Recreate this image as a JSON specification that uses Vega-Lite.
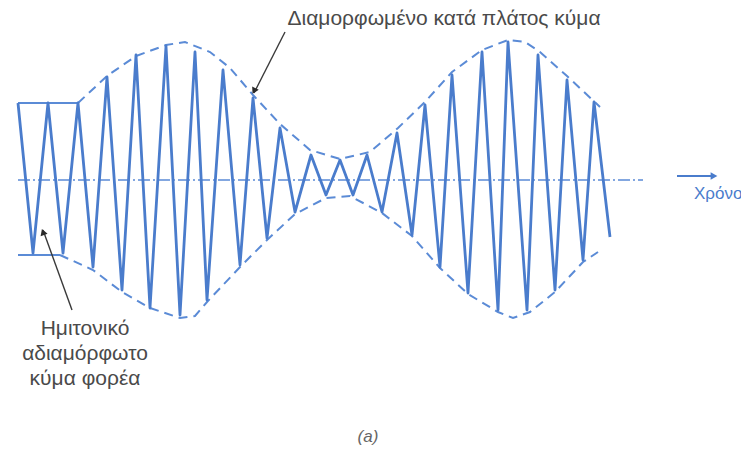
{
  "$schema": "https://vega.github.io/schema/vega-lite/v6.json",
  "width": 741,
  "height": 461,
  "autosize": "none",
  "padding": 0,
  "background": "white",
  "config": {"view": {"stroke": null}},
  "datasets": {
    "wave": [
      {"i":0,"t":18,"a":77},{"i":1,"t":33,"a":-73},{"i":2,"t":48,"a":77},{"i":3,"t":63,"a":-73},{"i":4,"t":78,"a":77},
      {"i":5,"t":93,"a":-87},{"i":6,"t":107,"a":103},{"i":7,"t":122,"a":-110},{"i":8,"t":136,"a":125},{"i":9,"t":150,"a":-128},
      {"i":10,"t":166,"a":134},{"i":11,"t":180,"a":-135},{"i":12,"t":195,"a":128},{"i":13,"t":207,"a":-120},{"i":14,"t":223,"a":110},
      {"i":15,"t":240,"a":-85},{"i":16,"t":253,"a":82},{"i":17,"t":267,"a":-58},{"i":18,"t":280,"a":52},{"i":19,"t":295,"a":-32},
      {"i":20,"t":311,"a":25},{"i":21,"t":326,"a":-15},{"i":22,"t":340,"a":20},{"i":23,"t":353,"a":-15},{"i":24,"t":367,"a":25},
      {"i":25,"t":382,"a":-32},{"i":26,"t":397,"a":47},{"i":27,"t":412,"a":-55},{"i":28,"t":425,"a":75},{"i":29,"t":440,"a":-87},
      {"i":30,"t":452,"a":105},{"i":31,"t":468,"a":-113},{"i":32,"t":482,"a":128},{"i":33,"t":498,"a":-130},{"i":34,"t":508,"a":138},
      {"i":35,"t":527,"a":-130},{"i":36,"t":538,"a":125},{"i":37,"t":555,"a":-110},{"i":38,"t":567,"a":100},{"i":39,"t":583,"a":-80},
      {"i":40,"t":594,"a":78},{"i":41,"t":610,"a":-57}
    ],
    "envelope": [
      {"part":"top","i":0,"t":78,"a":77},{"part":"top","i":1,"t":107,"a":104},{"part":"top","i":2,"t":136,"a":124},{"part":"top","i":3,"t":166,"a":135},
      {"part":"top","i":4,"t":185,"a":138},{"part":"top","i":5,"t":210,"a":128},{"part":"top","i":6,"t":230,"a":112},{"part":"top","i":7,"t":253,"a":85},
      {"part":"top","i":8,"t":280,"a":56},{"part":"top","i":9,"t":310,"a":30},{"part":"top","i":10,"t":340,"a":21},{"part":"top","i":11,"t":370,"a":28},
      {"part":"top","i":12,"t":398,"a":52},{"part":"top","i":13,"t":425,"a":78},{"part":"top","i":14,"t":452,"a":108},{"part":"top","i":15,"t":482,"a":130},
      {"part":"top","i":16,"t":508,"a":140},{"part":"top","i":17,"t":525,"a":138},{"part":"top","i":18,"t":540,"a":128},{"part":"top","i":19,"t":567,"a":104},
      {"part":"top","i":20,"t":600,"a":73},
      {"part":"bottom","i":0,"t":60,"a":-75},{"part":"bottom","i":1,"t":93,"a":-90},{"part":"bottom","i":2,"t":122,"a":-112},{"part":"bottom","i":3,"t":150,"a":-128},
      {"part":"bottom","i":4,"t":180,"a":-138},{"part":"bottom","i":5,"t":195,"a":-136},{"part":"bottom","i":6,"t":207,"a":-122},{"part":"bottom","i":7,"t":240,"a":-87},
      {"part":"bottom","i":8,"t":267,"a":-60},{"part":"bottom","i":9,"t":295,"a":-34},{"part":"bottom","i":10,"t":326,"a":-18},{"part":"bottom","i":11,"t":350,"a":-16},
      {"part":"bottom","i":12,"t":382,"a":-33},{"part":"bottom","i":13,"t":412,"a":-56},{"part":"bottom","i":14,"t":440,"a":-88},{"part":"bottom","i":15,"t":468,"a":-114},
      {"part":"bottom","i":16,"t":498,"a":-132},{"part":"bottom","i":17,"t":513,"a":-138},{"part":"bottom","i":18,"t":530,"a":-132},{"part":"bottom","i":19,"t":555,"a":-112},
      {"part":"bottom","i":20,"t":583,"a":-82},{"part":"bottom","i":21,"t":598,"a":-72}
    ],
    "flat": [
      {"part":"top","t":18,"a":77},{"part":"top","t":78,"a":77},
      {"part":"bottom","t":18,"a":-75},{"part":"bottom","t":60,"a":-75}
    ],
    "baseline": [{"t":18,"a":0},{"t":643,"a":0}],
    "arrows": [
      {"name":"modulated","t":285,"a":148,"t2":254,"a2":87},
      {"name":"carrier","t":72,"a":-130,"t2":43,"a2":-50}
    ],
    "heads": [
      {"name":"modulated","t":254,"a":89},
      {"name":"carrier","t":43,"a":-52}
    ],
    "timeaxis": [{"t":677,"a":4,"t2":712,"a2":4}],
    "timehead": [{"t":714,"a":4}],
    "labels": [
      {"kind":"top","t":444,"a":161,"text":"Διαμορφωμένο κατά πλάτος κύμα"},
      {"kind":"left","t":85,"a":-149,"text":"Ημιτονικό"},
      {"kind":"left","t":85,"a":-174,"text":"αδιαμόρφωτο"},
      {"kind":"left","t":85,"a":-199,"text":"κύμα φορέα"}
    ],
    "timelabel": [{"t":694,"a":-14,"text":"Χρόνος"}],
    "caption": [{"t":368,"a":-257,"text":"(a)"}]
  },
  "encoding": {
    "x": {"field":"t","type":"quantitative","scale":{"domain":[0,741],"nice":false,"zero":false},"axis":null},
    "y": {"field":"a","type":"quantitative","scale":{"domain":[-281,180],"nice":false,"zero":false},"axis":null}
  },
  "layer": [
    {
      "data": {"name":"baseline"},
      "mark": {"type":"line","color":"#5b8bd6","strokeWidth":1.6,"strokeDash":[12,3,2,3]},
      "encoding": {}
    },
    {
      "data": {"name":"envelope"},
      "mark": {"type":"line","color":"#5b8bd6","strokeWidth":2,"strokeDash":[9,6]},
      "encoding": {"detail":{"field":"part"},"order":{"field":"i","type":"quantitative"}}
    },
    {
      "data": {"name":"flat"},
      "mark": {"type":"line","color":"#5b8bd6","strokeWidth":2},
      "encoding": {"detail":{"field":"part"}}
    },
    {
      "data": {"name":"wave"},
      "mark": {"type":"line","color":"#4a7ccc","strokeWidth":2.8,"strokeJoin":"round"},
      "encoding": {"order":{"field":"i","type":"quantitative"}}
    },
    {
      "data": {"name":"arrows"},
      "mark": {"type":"rule","color":"#3a3a3a","strokeWidth":1.4},
      "encoding": {"x2":{"field":"t2"},"y2":{"field":"a2"}}
    },
    {
      "data": {"name":"heads"},
      "transform": [{"filter":"datum.name === 'modulated'"}],
      "mark": {"type":"point","shape":"triangle-up","filled":true,"color":"#2a2a2a","size":55,"angle":207,"opacity":1},
      "encoding": {}
    },
    {
      "data": {"name":"heads"},
      "transform": [{"filter":"datum.name === 'carrier'"}],
      "mark": {"type":"point","shape":"triangle-up","filled":true,"color":"#2a2a2a","size":55,"angle":340,"opacity":1},
      "encoding": {}
    },
    {
      "data": {"name":"timeaxis"},
      "mark": {"type":"rule","color":"#4a7ccc","strokeWidth":2},
      "encoding": {"x2":{"field":"t2"},"y2":{"field":"a2"}}
    },
    {
      "data": {"name":"timehead"},
      "mark": {"type":"point","shape":"triangle-up","filled":true,"color":"#4a7ccc","size":60,"angle":90,"opacity":1},
      "encoding": {}
    },
    {
      "data": {"name":"labels"},
      "mark": {"type":"text","font":"Liberation Sans","fontSize":21,"color":"#4a4a4a","align":"center","baseline":"middle"},
      "encoding": {"text":{"field":"text"}}
    },
    {
      "data": {"name":"timelabel"},
      "mark": {"type":"text","font":"Liberation Sans","fontSize":17,"color":"#4a7ccc","align":"left","baseline":"middle"},
      "encoding": {"text":{"field":"text"}}
    },
    {
      "data": {"name":"caption"},
      "mark": {"type":"text","font":"Liberation Sans","fontSize":17,"fontStyle":"italic","color":"#666666","align":"center","baseline":"middle"},
      "encoding": {"text":{"field":"text"}}
    }
  ]
}
